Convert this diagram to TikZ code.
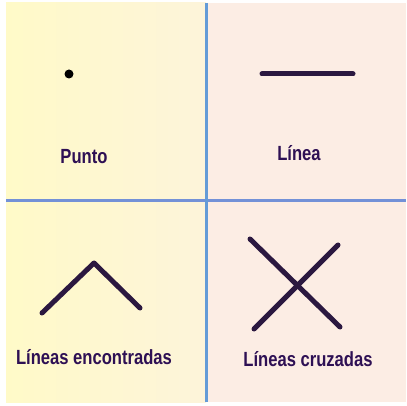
\documentclass[tikz,border=0pt]{standalone}
\usepackage{fontspec}
\setmainfont{Liberation Sans}[FakeStretch=0.81]
\usetikzlibrary{positioning}
\definecolor{ink}{RGB}{43,24,64}
\definecolor{txt}{RGB}{46,16,84}
\definecolor{yell}{RGB}{255,250,200}
\definecolor{yellr}{RGB}{253,244,218}
\definecolor{peach}{RGB}{252,237,228}
\definecolor{bar}{RGB}{100,155,215}
\definecolor{barh}{RGB}{115,145,215}
\tikzset{
  stroke/.style={draw=ink, line width=5pt, line cap=round, line join=round},
  caption/.style={anchor=base, text=txt, font=\bfseries\fontsize{20.5}{24}\selectfont, inner sep=0pt},
  divider/.style={line width=3.5pt},
}
\begin{document}
\begin{tikzpicture}[x=1pt, y=-1pt]
  \useasboundingbox (0,0) rectangle (407,406);
  % panels
  \shade[left color=yell, right color=yellr] (6,3) rectangle (206,402);
  \fill[peach] (206,3) rectangle (406,402);
  % dividers
  \draw[divider, draw=barh] (6,200.5) -- (406,200.5);
  \draw[divider, draw=bar] (206.5,3) -- (206.5,402);
  % Punto
  \node[circle, fill=black, minimum size=9pt, inner sep=0pt] (punto) at (69,74) {};
  \node[caption] (lpunto) at (84,164) {Punto};
  % Linea
  \coordinate (la) at (262,74);
  \coordinate (lb) at (353,74);
  \draw[stroke] (la) -- (lb);
  \node[caption] (llinea) at (299,161) {Línea};
  % Lineas encontradas
  \coordinate (ea) at (42,313);
  \coordinate (ev) at (94,263);
  \coordinate (eb) at (140,308);
  \draw[stroke] (ea) -- (ev) -- (eb);
  \node[caption] (lencontradas) at (94,364) {Líneas encontradas};
  % Lineas cruzadas
  \coordinate (ca) at (250,239);
  \coordinate (cb) at (340,327);
  \coordinate (cc) at (338,245);
  \coordinate (cd) at (254,329);
  \draw[stroke] (ca) -- (cb);
  \draw[stroke] (cc) -- (cd);
  \node[caption] (lcruzadas) at (308,366) {Líneas cruzadas};
\end{tikzpicture}
\end{document}
